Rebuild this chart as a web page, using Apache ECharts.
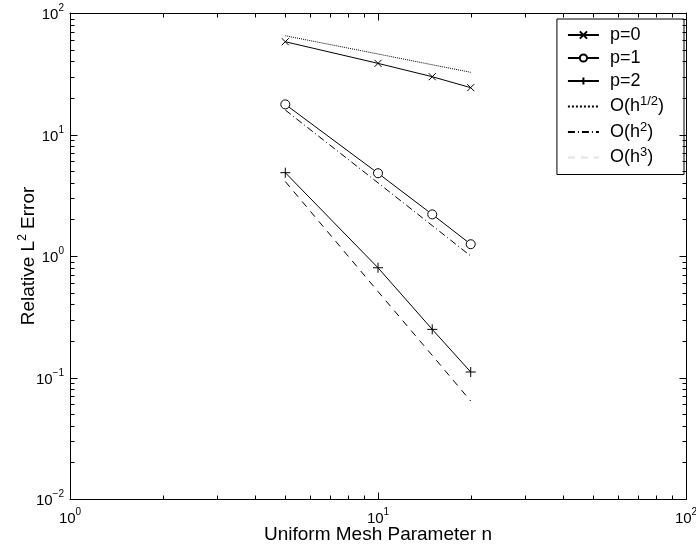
<!DOCTYPE html>
<html>
<head>
<meta charset="utf-8">
<script src="https://cdn.jsdelivr.net/npm/echarts@6/dist/echarts.min.js"></script>
<style>html,body{margin:0;padding:0;background:#fff}#c{width:696px;height:547px}</style>
</head>
<body>
<div id="c"></div>
<script>
// ---- data ----
const meshN = [5, 10, 15, 20];
const errP0 = [58, 38.5, 29.9, 24.3];
const errP1 = [17.7, 4.8, 2.2, 1.25];
const errP2 = [4.85, 0.8, 0.249, 0.111];
const refHalf = [65, 46, 37.5, 32.5];
const refH2 = [15.9, 4.0, 1.78, 1.0];
const refH3 = [4.1, 0.51, 0.152, 0.064];
const xMajorTicks = [1, 10, 100];
const xMinorTicks = [2,3,4,5,6,7,8,9,20,30,40,50,60,70,80,90];
const yMajorTicks = [0.01, 0.1, 1, 10, 100];
const yMinorTicks = [0.02,0.03,0.04,0.05,0.06,0.07,0.08,0.09,0.2,0.3,0.4,0.5,0.6,0.7,0.8,0.9,2,3,4,5,6,7,8,9,20,30,40,50,60,70,80,90];

const FONT = "'Liberation Sans', Arial, sans-serif";
const X_MIN = 1, X_MAX = 100, Y_MIN = 0.01, Y_MAX = 100;
const pairs = (ys) => meshN.map((n, i) => [n, ys[i]]);

function powLabel(v) {
  const e = Math.round(Math.log10(v));
  const s = e < 0 ? '\u2212' + (-e) : String(e);
  return '{b|10}{s|' + s + '}';
}
const labelRich = {
  b: { fontFamily: FONT, fontSize: 15, color: '#000', verticalAlign: 'bottom' },
  s: { fontFamily: FONT, fontSize: 10, color: '#000', verticalAlign: 'top', padding: [0, 0, 9, 0] }
};

const option = {
  backgroundColor: '#fff',
  animation: false,
  grid: { left: 70, right: 10, top: 13, bottom: 48, containLabel: false, outerBoundsMode: 'none',
          show: false },
  xAxis: [{
    type: 'log', logBase: 10, min: X_MIN, max: X_MAX, position: 'bottom',
    axisLine: { show: true, lineStyle: { color: '#000', width: 1 } },
    axisTick: { show: false }, splitLine: { show: false }, minorTick: { show: false },
    axisLabel: { show: true, margin: 8, formatter: powLabel, rich: labelRich },
    name: 'Uniform Mesh Parameter n', nameLocation: 'middle', nameGap: 26, nameMoveOverlap: false,
    nameTextStyle: { fontFamily: FONT, fontSize: 19, color: '#000' }
  }, {
    type: 'log', logBase: 10, min: X_MIN, max: X_MAX, position: 'top',
    axisLine: { show: true, lineStyle: { color: '#000', width: 1 } },
    axisTick: { show: false }, axisLabel: { show: false }, splitLine: { show: false }
  }],
  yAxis: [{
    type: 'log', logBase: 10, min: Y_MIN, max: Y_MAX, position: 'left',
    axisLine: { show: true, lineStyle: { color: '#000', width: 1 } },
    axisTick: { show: false }, splitLine: { show: false }, minorTick: { show: false },
    axisLabel: { show: true, margin: 6, formatter: powLabel, rich: labelRich },
    name: '{a|Relative L}{s|2}{a| Error}', nameLocation: 'middle', nameGap: 29, nameRotate: 90,
    nameMoveOverlap: false,
    nameTextStyle: { fontFamily: FONT, fontSize: 19, color: '#000',
      rich: { a: { fontFamily: FONT, fontSize: 19, color: '#000' },
              s: { fontFamily: FONT, fontSize: 12, color: '#000', padding: [0, 0, 12, 0] } } }
  }, {
    type: 'log', logBase: 10, min: Y_MIN, max: Y_MAX, position: 'right',
    axisLine: { show: true, lineStyle: { color: '#000', width: 1 } },
    axisTick: { show: false }, axisLabel: { show: false }, splitLine: { show: false }
  }],
  legend: {
    orient: 'vertical', right: 12, top: 19, z: 3,
    backgroundColor: '#fff', borderColor: '#000', borderWidth: 1,
    padding: [7, 20, 8, 10], itemGap: 5, itemWidth: 31, itemHeight: 9,
    data: [
      { name: 'p=0' }, { name: 'p=1' }, { name: 'p=2' },
      { name: 'O(h^1/2)' }, { name: 'O(h^2)' },
      { name: 'O(h^3)', lineStyle: { color: '#e4e4e4' } }
    ],
    formatter: function (n) {
      const m = n.match(/^O\(h\^(.*)\)$/);
      if (m) return '{f|O(h}{s|' + m[1] + '}{a|)}';
      return '{f|' + n + '}';
    },
    textStyle: { fontFamily: FONT, fontSize: 18, color: '#000',
      rich: { f: { fontFamily: FONT, fontSize: 18, color: '#000', padding: [0, 0, 0, 6] },
              a: { fontFamily: FONT, fontSize: 18, color: '#000' },
              s: { fontFamily: FONT, fontSize: 13, color: '#000', padding: [0, 0, 10, 0] } } }
  },
  series: []
};

const crossPath = 'path://M0,0L10,10M10,0L0,10';
const plusPath = 'path://M5,0L5,10M0,5L10,5';

function mainSeries(name, data, symbol, size) {
  return {
    name, type: 'line', data: pairs(data), symbol, symbolSize: size,
    showSymbol: true, silent: true, animation: false,
    lineStyle: { color: '#000', width: 1 },
    itemStyle: { color: symbol === 'circle' ? '#fff' : 'none', borderColor: '#000', borderWidth: 1 },
    emphasis: { disabled: true }
  };
}
function refSeries(name, data, type) {
  return {
    name, type: 'line', data: pairs(data), symbol: 'circle', showSymbol: false, silent: true, animation: false,
    lineStyle: { color: '#000', width: 1, type },
    itemStyle: { color: 'rgba(0,0,0,0)', borderWidth: 0 },
    emphasis: { disabled: true }
  };
}

option.series = [
  mainSeries('p=0', errP0, crossPath, 7),
  mainSeries('p=1', errP1, 'circle', 9),
  mainSeries('p=2', errP2, plusPath, 10),
  refSeries('O(h^1/2)', refHalf, 'dotted'),
  refSeries('O(h^2)', refH2, [7, 3, 1, 3]),
  refSeries('O(h^3)', refH3, [7, 6])
];

const chart = echarts.init(document.getElementById('c'), null, { renderer: 'canvas' });
chart.setOption(option);

// tick marks (inside, mirrored on all four sides), positioned through the axis scales
function addTicks() {
  const els = [];
  const seg = (x1, y1, x2, y2) => els.push({
    type: 'line', silent: true, z: 10,
    shape: { x1, y1, x2, y2 }, style: { stroke: '#000', lineWidth: 1 }
  });
  const px = (v) => chart.convertToPixel({ xAxisIndex: 0 }, v);
  const py = (v) => chart.convertToPixel({ yAxisIndex: 0 }, v);
  const r = (v) => Math.round(v) + 0.5;
  const top = r(2 * py(10) - py(1));
  const bot = r(2 * py(0.1) - py(1));
  const left = r(2 * px(10) - px(100));
  const right = r(px(100));
  const xPos = (v) => v === X_MIN ? left : r(px(v));
  const yPos = (v) => v === Y_MIN ? bot : (v === Y_MAX ? top : r(py(v)));
  const xt = (vals, len) => vals.forEach(v => {
    const x = xPos(v);
    seg(x, bot, x, bot - len); seg(x, top, x, top + len);
  });
  const yt = (vals, len) => vals.forEach(v => {
    const y = yPos(v);
    seg(left, y, left + len, y); seg(right, y, right - len, y);
  });
  xt(xMajorTicks, 7); xt(xMinorTicks, 4);
  yt(yMajorTicks, 7); yt(yMinorTicks, 4);
  chart.setOption({ graphic: { elements: els } });
}
addTicks();
</script>
</body>
</html>
